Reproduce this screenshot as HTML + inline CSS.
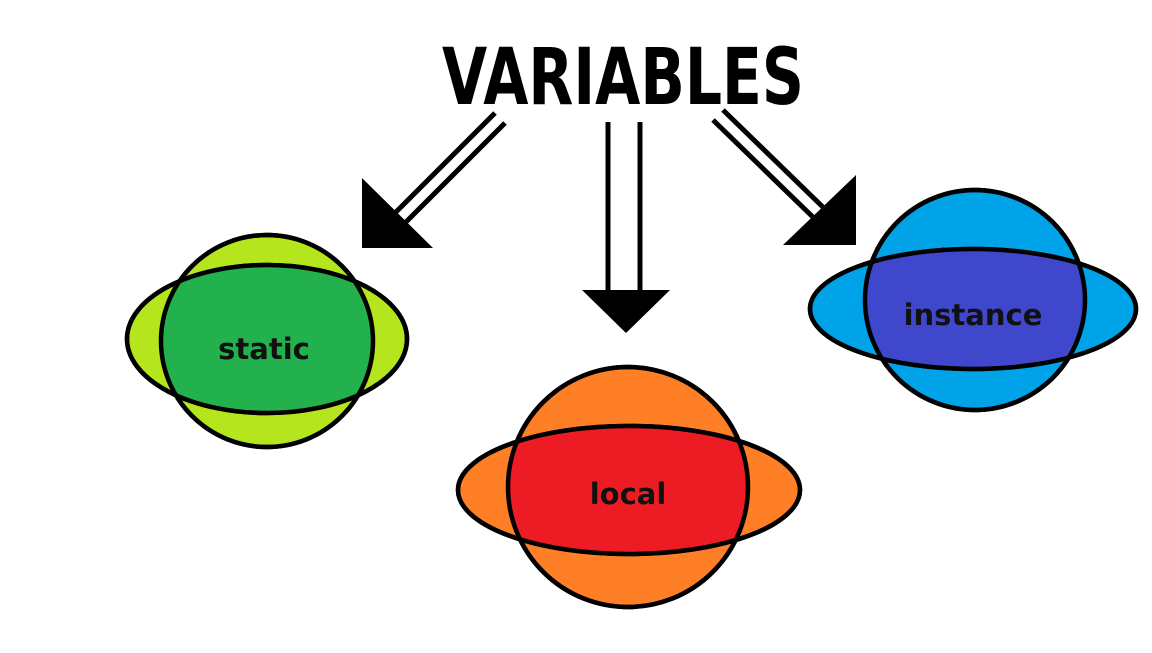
<!DOCTYPE html>
<html><head><meta charset="utf-8"><style>
html,body{margin:0;padding:0;background:#fff;}
</style></head><body>
<svg width="1152" height="648" viewBox="0 0 1152 648" xmlns="http://www.w3.org/2000/svg">
<defs>
<clipPath id="c1"><circle cx="267" cy="341" r="106"/></clipPath>
<clipPath id="c2"><circle cx="628" cy="487" r="120"/></clipPath>
<clipPath id="c3"><circle cx="975" cy="300" r="110"/></clipPath>
</defs>
<text x="623" y="104" text-anchor="middle" font-family="DejaVu Sans, Liberation Sans, sans-serif" font-weight="bold" font-size="78" fill="#000" textLength="362" lengthAdjust="spacingAndGlyphs">VARIABLES</text>

<g stroke="#000" stroke-width="5" fill="none">
<line x1="495" y1="113" x2="392" y2="216"/>
<line x1="505" y1="123" x2="402" y2="226"/>
<line x1="608" y1="122" x2="608" y2="292"/>
<line x1="640" y1="122" x2="640" y2="292"/>
<line x1="713" y1="120" x2="818" y2="222"/>
<line x1="723" y1="110" x2="828" y2="212"/>
</g>
<polygon points="362,178 362,248 433,248" fill="#000"/>
<polygon points="582,290 670,290 626,333" fill="#000"/>
<polygon points="856,175 856,245 783,245" fill="#000"/>

<g stroke="#000" stroke-width="4.5">
<circle cx="267" cy="341" r="106" fill="#b5e61d"/>
<ellipse cx="267" cy="339" rx="140" ry="74" fill="#b5e61d"/>
<ellipse cx="267" cy="339" rx="140" ry="74" fill="#22b14c" clip-path="url(#c1)" stroke="none"/>
<circle cx="267" cy="341" r="106" fill="none"/>
<ellipse cx="267" cy="339" rx="140" ry="74" fill="none"/>
</g>
<text x="264" y="359" text-anchor="middle" font-family="DejaVu Sans, Liberation Sans, sans-serif" font-weight="bold" font-size="29" fill="#111">static</text>

<g stroke="#000" stroke-width="4.5">
<circle cx="628" cy="487" r="120" fill="#ff7f27"/>
<ellipse cx="629" cy="490" rx="171" ry="64" fill="#ff7f27"/>
<ellipse cx="629" cy="490" rx="171" ry="64" fill="#ed1c24" clip-path="url(#c2)" stroke="none"/>
<circle cx="628" cy="487" r="120" fill="none"/>
<ellipse cx="629" cy="490" rx="171" ry="64" fill="none"/>
</g>
<text x="628" y="504" text-anchor="middle" font-family="DejaVu Sans, Liberation Sans, sans-serif" font-weight="bold" font-size="29" fill="#111">local</text>

<g stroke="#000" stroke-width="4.5">
<circle cx="975" cy="300" r="110" fill="#00a2e8"/>
<ellipse cx="973" cy="309" rx="163" ry="60" fill="#00a2e8"/>
<ellipse cx="973" cy="309" rx="163" ry="60" fill="#3f48cc" clip-path="url(#c3)" stroke="none"/>
<circle cx="975" cy="300" r="110" fill="none"/>
<ellipse cx="973" cy="309" rx="163" ry="60" fill="none"/>
</g>
<text x="973" y="325" text-anchor="middle" font-family="DejaVu Sans, Liberation Sans, sans-serif" font-weight="bold" font-size="29" fill="#111">instance</text>
</svg>
</body></html>
